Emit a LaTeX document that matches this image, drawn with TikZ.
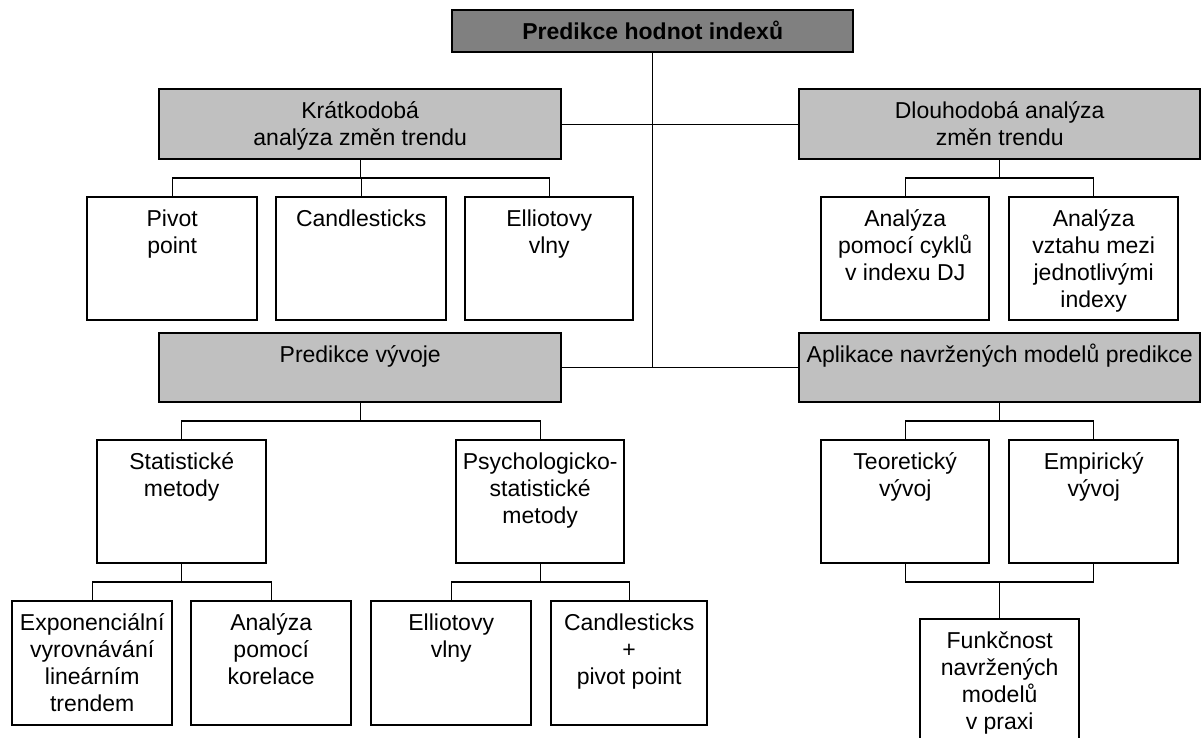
\documentclass[tikz,border=0pt]{standalone}
\usepackage{fontspec}
\setmainfont{Liberation Sans}
\definecolor{darkbox}{HTML}{808080}
\definecolor{lightbox}{HTML}{C0C0C0}
\tikzset{
  boxw/.style={draw=black, line width=1.2pt, fill=white},
  boxl/.style={draw=black, line width=1.2pt, fill=lightbox},
  boxd/.style={draw=black, line width=1.2pt, fill=darkbox},
  conn/.style={draw=black, line width=1.1pt},
  txt/.style={anchor=north, inner sep=0pt, align=center,
    font=\fontsize{23}{27}\selectfont},
}
\newcommand\mybox[7]{% style, name, x1, y1, x2, y2, text
  \path[#1] (#3,#4) rectangle (#5,#6);
  \node[inner sep=0pt, minimum width={#5-#3}, minimum height={#6-#4}, anchor=north west] (#2) at (#3,#4) {};
  \node[txt] (#2-t) at ([yshift=-10.1pt]#2.north) {\strut #7};
}
\begin{document}
\begin{tikzpicture}[x=1pt,y=-1pt]
\clip (0,0) rectangle (1202,738);
\fill[white] (0,0) rectangle (1202,738);

\mybox{boxd}{top}{452}{10}{853}{52}{\textbf{Predikce hodnot indexů}}
\mybox{boxl}{K}{159}{89}{561}{159}{Krátkodobá\\analýza změn trendu}
\mybox{boxl}{D}{799}{89}{1200}{159}{Dlouhodobá analýza\\změn trendu}
\mybox{boxw}{pivot}{87}{197}{257}{320}{Pivot\\point}
\mybox{boxw}{cand}{276}{197}{446}{320}{Candlesticks}
\mybox{boxw}{ell}{465}{197}{633}{320}{Elliotovy\\vlny}
\mybox{boxw}{cyk}{821}{197}{989}{320}{Analýza\\pomocí cyklů\\v indexu DJ}
\mybox{boxw}{vzt}{1009}{197}{1178}{320}{Analýza\\vztahu mezi\\jednotlivými\\indexy}
\mybox{boxl}{PV}{159}{333}{561}{402}{Predikce vývoje}
\mybox{boxl}{apl}{799}{333}{1200}{402}{Aplikace navržených modelů predikce}
\mybox{boxw}{stat}{97}{440}{266}{563}{Statistické\\metody}
\mybox{boxw}{psy}{456}{440}{624}{563}{Psychologicko-\\statistické\\metody}
\mybox{boxw}{expo}{12}{601}{172}{725}{Exponenciální\\vyrovnávání\\lineárním\\trendem}
\mybox{boxw}{kor}{191}{601}{351}{725}{Analýza\\pomocí\\korelace}
\mybox{boxw}{ell2}{371}{601}{531}{725}{Elliotovy\\vlny}
\mybox{boxw}{cand2}{551}{601}{707}{725}{Candlesticks\\+\\pivot point}
\mybox{boxw}{teor}{821}{440}{989}{563}{Teoretický\\vývoj}
\mybox{boxw}{emp}{1009}{440}{1178}{563}{Empirický\\vývoj}
\mybox{boxw}{funk}{920}{619}{1079}{760}{Funkčnost\\navržených\\modelů\\v praxi}

% trunk and main horizontals
\draw[conn] (top.south) -- (top.south |- PV.east);
\draw[conn] (K.east) -- (D.west);
\draw[conn] (PV.east) -- (apl.west);

% K bracket
\draw[conn] (K.south) -- (K.south |- 0,178);
\draw[conn] (pivot.north) -- (pivot.north |- 0,178) -| (ell.north);
\draw[conn] (cand.north) -- (cand.north |- 0,178);
% D bracket
\draw[conn] (D.south) -- (D.south |- 0,178);
\draw[conn] (cyk.north) -- (cyk.north |- 0,178) -| (vzt.north);
% PV bracket
\draw[conn] (PV.south) -- (PV.south |- 0,421);
\draw[conn] (stat.north) -- (stat.north |- 0,421) -| (psy.north);
% stat bracket
\draw[conn] (stat.south) -- (stat.south |- 0,582);
\draw[conn] (expo.north) -- (expo.north |- 0,582) -| (kor.north);
% psy bracket
\draw[conn] (psy.south) -- (psy.south |- 0,582);
\draw[conn] (ell2.north) -- (ell2.north |- 0,582) -| (cand2.north);
% apl bracket
\draw[conn] (apl.south) -- (apl.south |- 0,421);
\draw[conn] (teor.north) -- (teor.north |- 0,421) -| (emp.north);
% bottom bracket
\draw[conn] (teor.south) -- (teor.south |- 0,582) -| (emp.south);
\draw[conn] (funk.north) -- (funk.north |- 0,582);
\end{tikzpicture}
\end{document}
